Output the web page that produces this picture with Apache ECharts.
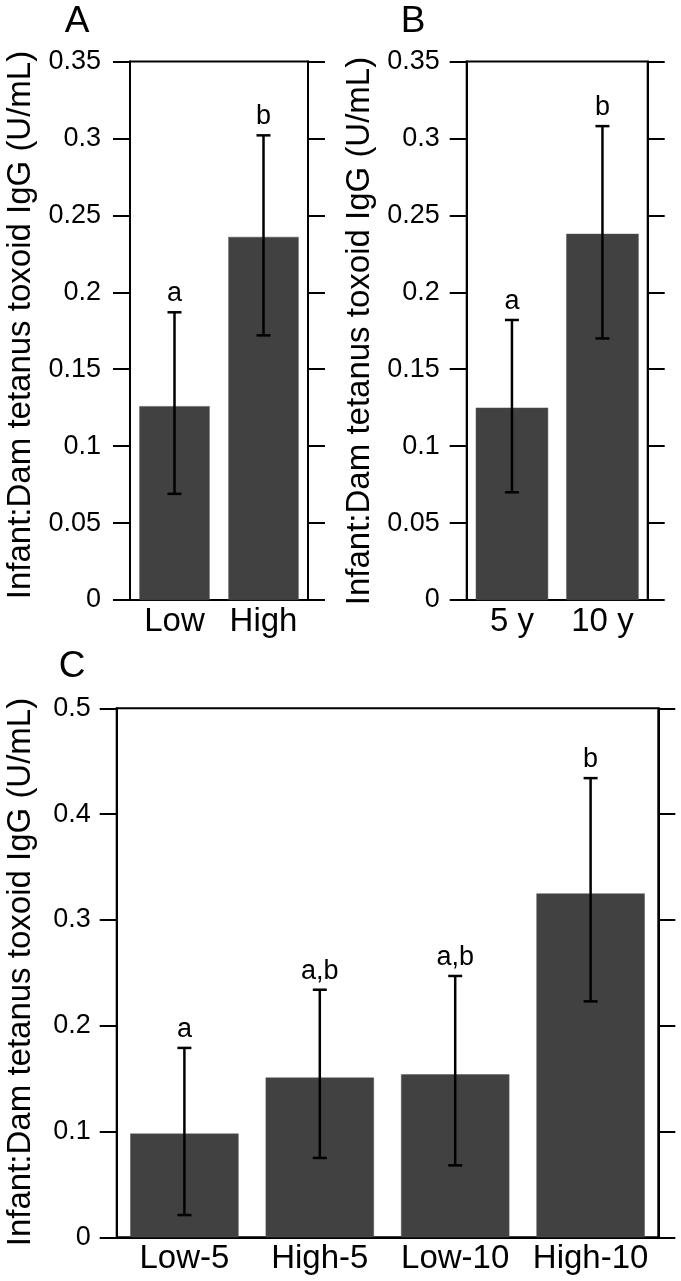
<!DOCTYPE html>
<html>
<head>
<meta charset="utf-8">
<script src="https://cdn.jsdelivr.net/npm/echarts@6/dist/echarts.min.js"></script>
<style>
html,body{margin:0;padding:0;background:#fff;}
#chart{width:681px;height:1281px;}
</style>
</head>
<body>
<div id="chart"></div>
<script>
// ---- Data ----
var catsA = ['Low', 'High'];
var meanA = [0.126, 0.236];
var lowerA = [0.069, 0.172];
var upperA = [0.187, 0.302];
var sigA = ['a', 'b'];

var catsB = ['5 y', '10 y'];
var meanB = [0.125, 0.238];
var lowerB = [0.070, 0.170];
var upperB = [0.182, 0.308];
var sigB = ['a', 'b'];

var catsC = ['Low-5', 'High-5', 'Low-10', 'High-10'];
var meanC = [0.098, 0.151, 0.154, 0.325];
var lowerC = [0.021, 0.075, 0.068, 0.223];
var upperC = [0.179, 0.234, 0.247, 0.434];
var sigC = ['a', 'a,b', 'a,b', 'b'];

var yTitle = 'Infant:Dam tetanus toxoid IgG (U/mL)';
var panelLetters = ['A', 'B', 'C'];

// ---- Styling ----
var FONT = "'Liberation Sans', Arial, Helvetica, sans-serif";
var BAR = '#414141';
var LW = 2;

var chart = echarts.init(document.getElementById('chart'), null, {renderer: 'canvas'});

function errRender(sig) {
  return function (params, api) {
    var i = api.value(0);
    var lo = api.coord([i, api.value(1)]);
    var hi = api.coord([i, api.value(2)]);
    var hw = 7;
    var st = {stroke: '#000', lineWidth: 2.5};
    return {
      type: 'group',
      children: [
        {type: 'line', shape: {x1: lo[0], y1: lo[1], x2: hi[0], y2: hi[1]}, style: st},
        {type: 'line', shape: {x1: lo[0] - hw, y1: lo[1], x2: lo[0] + hw, y2: lo[1]}, style: st},
        {type: 'line', shape: {x1: hi[0] - hw, y1: hi[1], x2: hi[0] + hw, y2: hi[1]}, style: st},
        {type: 'text', x: hi[0], y: hi[1] - 5,
          style: {text: sig[i], fill: '#000', font: '27px ' + FONT, textAlign: 'center', textVerticalAlign: 'bottom'}}
      ]
    };
  };
}

var grids = [
  {left: 130, top: 61.5, width: 178, height: 538.5},
  {left: 466.7, top: 61.5, width: 181, height: 538.5},
  {left: 116.7, top: 708.3, width: 541.6, height: 529}
];
var panels = [
  {cats: catsA, mean: meanA, lower: lowerA, upper: upperA, sig: sigA, max: 0.35, interval: 0.05, margin: 29, gap: '21%'},
  {cats: catsB, mean: meanB, lower: lowerB, upper: upperB, sig: sigB, max: 0.35, interval: 0.05, margin: 27, gap: '20%'},
  {cats: catsC, mean: meanC, lower: lowerC, upper: upperC, sig: sigC, max: 0.5, interval: 0.1, margin: 26, gap: '20%'}
];

var option = {
  backgroundColor: '#fff',
  animation: false,
  grid: grids.map(function (g) {
    return Object.assign({show: true, borderColor: '#000', borderWidth: LW, backgroundColor: 'transparent'}, g);
  }),
  xAxis: [],
  yAxis: [],
  series: [],
  graphic: []
};

panels.forEach(function (p, k) {
  option.xAxis.push({
    type: 'category', gridIndex: k, data: p.cats, position: 'bottom',
    axisLine: {show: true, lineStyle: {color: '#000', width: LW}},
    axisTick: {show: false},
    axisLabel: {color: '#000', fontSize: 33, fontFamily: FONT, margin: 5, interval: 0},
    splitLine: {show: false}
  });
  option.yAxis.push({
    type: 'value', gridIndex: k, min: 0, max: p.max, interval: p.interval, position: 'left',
    axisLine: {show: true, lineStyle: {color: '#000', width: LW}},
    axisTick: {show: true, inside: false, length: 17, lineStyle: {color: '#000', width: LW}},
    axisLabel: {color: '#000', fontSize: 27, fontFamily: FONT, margin: p.margin},
    splitLine: {show: false}
  });
  option.yAxis.push({
    type: 'value', gridIndex: k, min: 0, max: p.max, interval: p.interval, position: 'right',
    axisLine: {show: true, lineStyle: {color: '#000', width: LW}},
    axisTick: {show: true, inside: false, length: 17, lineStyle: {color: '#000', width: LW}},
    axisLabel: {show: false},
    splitLine: {show: false}
  });
  option.series.push({
    type: 'bar', xAxisIndex: k, yAxisIndex: 2 * k, data: p.mean,
    barCategoryGap: p.gap,
    itemStyle: {color: BAR, borderColor: '#555', borderWidth: 0.5},
    z: 2
  });
  option.series.push({
    type: 'custom', xAxisIndex: k, yAxisIndex: 2 * k,
    renderItem: errRender(p.sig),
    data: p.cats.map(function (c, i) { return [i, p.lower[i], p.upper[i]]; }),
    z: 5
  });
});

// axis titles (rotated) and panel letters
var titlePos = [[21, 325], [360, 331], [21, 972]];
titlePos.forEach(function (t) {
  option.graphic.push({
    type: 'text', x: t[0], y: t[1], rotation: Math.PI / 2,
    style: {text: yTitle, fill: '#000', font: '33px ' + FONT, textAlign: 'center', textVerticalAlign: 'middle'}
  });
});
var letterPos = [[77, 22], [413, 22], [72, 667]];
letterPos.forEach(function (t, i) {
  option.graphic.push({
    type: 'text', x: t[0], y: t[1],
    style: {text: panelLetters[i], fill: '#000', font: '37px ' + FONT, textAlign: 'center', textVerticalAlign: 'middle'}
  });
});

chart.setOption(option);
</script>
</body>
</html>
